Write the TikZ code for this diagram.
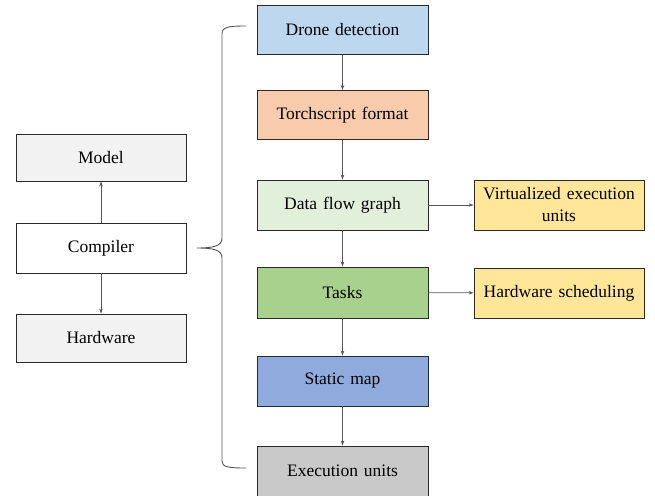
\documentclass[tikz,border=0pt]{standalone}
\usepackage{fontspec}
\setmainfont{Liberation Serif}
\newfontfamily\tnr{Liberation Serif}
\usetikzlibrary{arrows.meta}
\definecolor{cblue}{HTML}{BDD7EE}
\definecolor{corange}{HTML}{F8CBAD}
\definecolor{clgreen}{HTML}{E2EFDA}
\definecolor{cgreen}{HTML}{A9D18E}
\definecolor{cdblue}{HTML}{8FAADC}
\definecolor{cgrey}{HTML}{C9C9C9}
\definecolor{cyellow}{HTML}{FFE699}
\definecolor{clgrey}{HTML}{F2F2F2}
\definecolor{edge}{HTML}{2A2A2A}
\tikzset{
  box/.style={draw=edge, line width=0.9pt, minimum width=171pt, minimum height=49pt,
    inner sep=2pt, align=center, font=\tnr\fontsize{17.5}{22}\selectfont, text width=165pt},
  conn/.style={draw=edge!80, line width=0.6pt, -{Stealth[length=5pt,width=3.5pt]}},
  bracepath/.style={draw=edge!80, line width=0.9pt}
}
\begin{document}
\begin{tikzpicture}[x=1pt,y=-1pt]
\useasboundingbox (0,0) rectangle (655,495);
\node[box, fill=cblue] (drone) at (342.5,30) {Drone detection};
\node[box, fill=corange] (torch) at (342.5,115) {Torchscript format};
\node[box, fill=clgreen, minimum height=50pt] (dfg) at (342.5,205) {Data flow graph};
\node[box, fill=cgreen, minimum height=51pt] (tasks) at (342.5,292.5) {Tasks};
\node[box, fill=cdblue, minimum height=50pt] (static) at (342.5,381) {Static map};
\node[box, fill=cgrey, minimum height=50pt] (exec) at (342.5,471) {Execution units};
\node[box, fill=cyellow, minimum height=50pt, minimum width=170pt] (virt) at (559,205) {Virtualized execution\\units};
\node[box, fill=cyellow, minimum height=50pt, minimum width=170pt] (hwsched) at (559,293) {Hardware scheduling};
\node[box, fill=clgrey, minimum height=47pt, minimum width=170pt] (model) at (101,157.5) {Model};
\node[box, fill=white, minimum height=50pt, minimum width=170pt] (comp) at (101,248) {Compiler};
\node[box, fill=clgrey, minimum height=48pt, minimum width=170pt] (hw) at (101,338) {Hardware};

\draw[conn] (comp.north) -- (model.south);
\draw[conn] (comp.south) -- (hw.north);
\draw[conn] (drone) -- (torch);
\draw[conn] (torch) -- (dfg);
\draw[conn] (dfg) -- (tasks);
\draw[conn] (tasks) -- (static);
\draw[conn] (static) -- (exec);
\draw[conn] (dfg) -- (virt);
\draw[conn] (tasks) -- (hwsched);

\coordinate (btop) at (246,26);
\coordinate (bbot) at (246,468);
\coordinate (btip) at (197,248);
\draw[bracepath] (btop) .. controls (228,26) and (222,27) .. (222,34)
  -- (222,238) .. controls (222,246) and (214,248) .. (btip)
  .. controls (214,248) and (222,250) .. (222,258)
  -- (222,461) .. controls (222,467) and (228,468) .. (bbot);
\end{tikzpicture}
\end{document}
